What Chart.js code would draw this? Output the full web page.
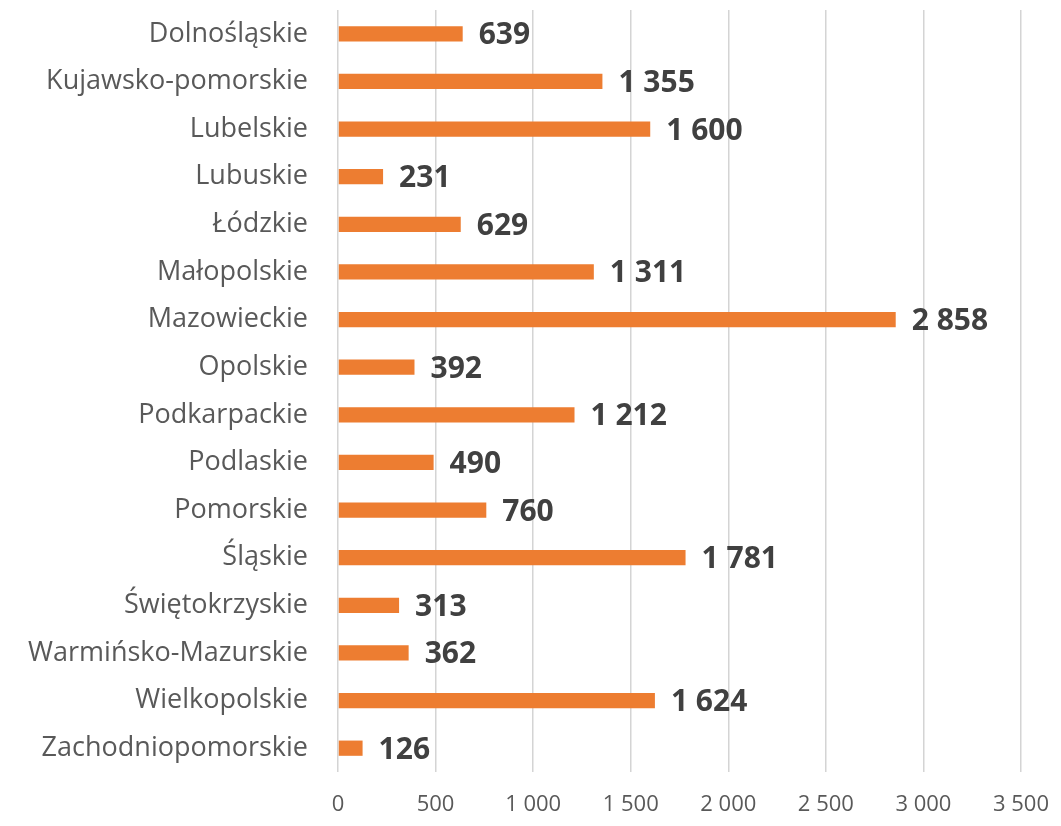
<!DOCTYPE html>
<html>
<head>
<meta charset="utf-8">
<script src="https://cdn.jsdelivr.net/npm/chart.js@4"></script>
<style>
  html, body { margin: 0; padding: 0; background: #fff; }
  #wrap { width: 1061px; height: 826px; }
</style>
</head>
<body>
<div id="wrap"><canvas id="wykres"></canvas></div>
<script>
// dane wykresu
const wojewodztwa = ['Dolnośląskie', 'Kujawsko-pomorskie', 'Lubelskie', 'Lubuskie', 'Łódzkie',
    'Małopolskie', 'Mazowieckie', 'Opolskie', 'Podkarpackie', 'Podlaskie', 'Pomorskie',
    'Śląskie', 'Świętokrzyskie', 'Warmińsko-Mazurskie', 'Wielkopolskie', 'Zachodniopomorskie'];
const wartosci = [639, 1355, 1600, 231, 629, 1311, 2858, 392, 1212, 490, 760, 1781, 313, 362, 1624, 126];
const osX = { min: 0, max: 3500, krok: 500 };

const FONT = '"Open Sans", sans-serif';

function formatuj(v) {
    return String(v).replace(/\B(?=(\d{3})+(?!\d))/g, ' ');
}

// etykiety danych na końcu słupków
const etykiety = {
    id: 'etykiety',
    afterDatasetsDraw(chart) {
        const ctx = chart.ctx;
        const meta = chart.getDatasetMeta(0);
        ctx.save();
        ctx.font = 'bold 30px ' + FONT;
        ctx.fillStyle = '#404040';
        ctx.textAlign = 'left';
        ctx.textBaseline = 'middle';
        meta.data.forEach((bar, i) => {
            ctx.fillText(formatuj(wartosci[i]), bar.x + 16, bar.y + 2);
        });
        ctx.restore();
    }
};

new Chart(document.getElementById('wykres'), {
    type: 'bar',
    data: {
        labels: wojewodztwa,
        datasets: [{
            data: wartosci,
            backgroundColor: '#ED7D31',
            categoryPercentage: 1,
            barPercentage: 0.32
        }]
    },
    options: {
        indexAxis: 'y',
        responsive: true,
        maintainAspectRatio: false,
        animation: false,
        layout: { padding: { top: 10, right: 40, left: 0, bottom: 0 } },
        plugins: { legend: { display: false }, tooltip: { enabled: false } },
        scales: {
            x: {
                min: osX.min,
                max: osX.max,
                ticks: {
                    stepSize: osX.krok,
                    padding: 20,
                    color: '#595959',
                    font: { family: FONT, size: 22 },
                    callback: v => formatuj(v)
                },
                grid: { color: '#d4d4d4', lineWidth: 1.5, drawTicks: false },
                border: { display: false },
                afterFit: s => { s.height = 54; s.paddingLeft = 0; s.paddingRight = 0; }
            },
            y: {
                ticks: {
                    padding: 30,
                    color: '#595959',
                    font: { family: FONT, size: 27 }
                },
                grid: { display: false, drawTicks: false },
                border: { display: false },
                afterFit: s => { s.width = 338; s.paddingTop = 0; s.paddingBottom = 0; }
            }
        }
    },
    plugins: [etykiety]
});
</script>
</body>
</html>
